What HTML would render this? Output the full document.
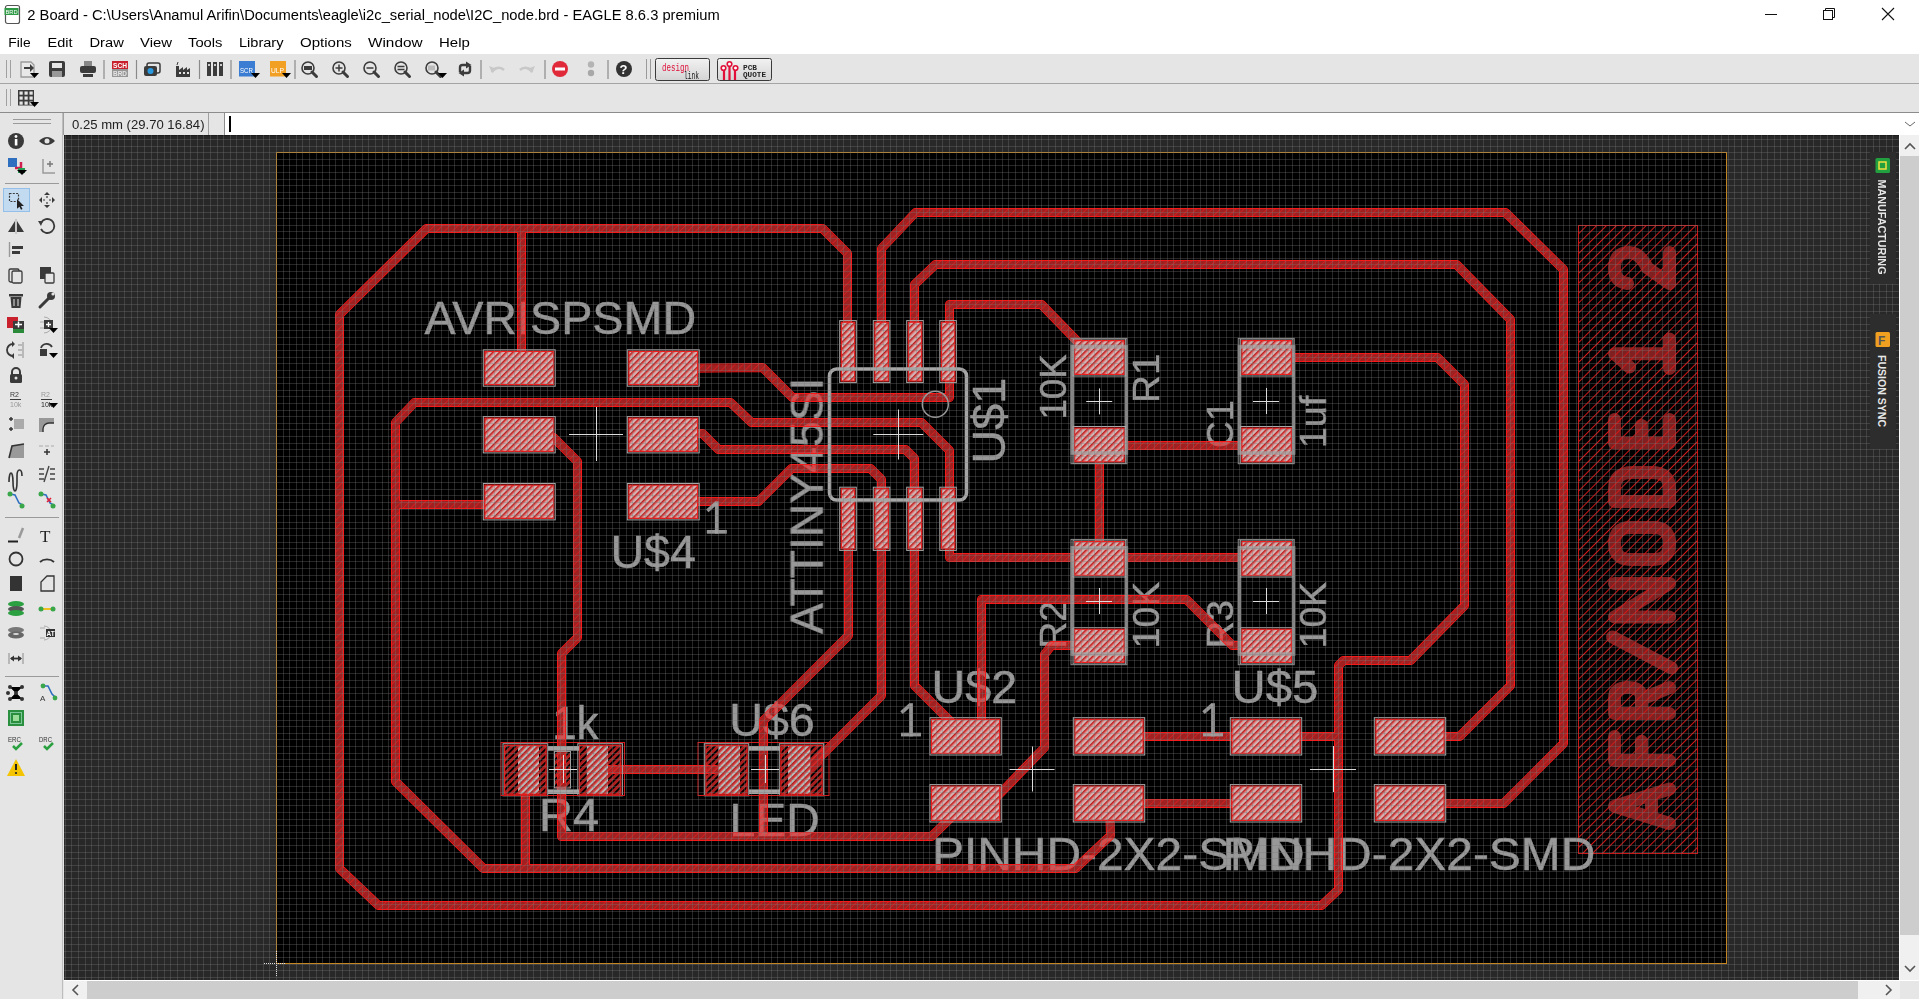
<!DOCTYPE html>
<html><head><meta charset="utf-8"><title>EAGLE</title>
<style>
*{margin:0;padding:0;box-sizing:border-box}
html,body{width:1919px;height:999px;overflow:hidden;background:#fff;font-family:"Liberation Sans",sans-serif}
.a{position:absolute}
.m{top:34px;font-size:13px;line-height:17px;color:#000;white-space:nowrap}
</style></head><body>
<div class="a" style="left:0;top:0;width:1919px;height:54px;background:#fff"></div>

<div class="a" style="left:0;top:54px;width:1919px;height:30px;background:#e5e5e5;border-bottom:1px solid #a5a5a5"></div>
<div class="a" style="left:0;top:84px;width:1919px;height:29px;background:#e5e5e5;border-bottom:1px solid #8c8c8c"></div>
<div class="a" style="left:0;top:113px;width:64px;height:886px;background:#e5e5e5"></div>
<div class="a" style="left:63px;top:113px;width:1856px;height:22px;background:#e5e5e5;border-left:1px solid #a0a0a0"></div>
<div class="a" style="left:208px;top:113px;width:1px;height:22px;background:#a0a0a0"></div>
<div class="a" style="left:224px;top:113px;width:1695px;height:22px;background:#fff;border-left:1px solid #8c8c8c"></div>
<div class="a" style="left:229px;top:116px;width:2px;height:16px;background:#000"></div>
<svg width="1919" height="999" viewBox="0 0 1919 999" style="position:absolute;left:0;top:0">
<defs><pattern id="hp" patternUnits="userSpaceOnUse" width="4.7" height="4.7" patternTransform="rotate(45)"><rect width="4.7" height="4.7" fill="#d2b2b2"/><rect width="1.4" height="4.7" fill="#b42020"/><rect x="1.4" width="0.8" height="4.7" fill="#f02a2a"/></pattern><pattern id="hq" patternUnits="userSpaceOnUse" width="4.7" height="4.7" patternTransform="rotate(45)"><rect width="1.7" height="4.7" fill="#b01e1e"/><rect x="1.7" width="0.9" height="4.7" fill="#f02a2a"/></pattern><pattern id="hs" patternUnits="userSpaceOnUse" width="7" height="7" patternTransform="rotate(45)"><rect width="1" height="7" fill="#d01818"/></pattern><clipPath id="cc"><rect x="64" y="135" width="1835" height="845"/></clipPath></defs>
<g clip-path="url(#cc)">
<rect x="64" y="135" width="1835" height="845" fill="#282828"/>
<rect x="276.5" y="152.5" width="1450" height="811" fill="#000"/>
<rect x="276.5" y="152.5" width="1450" height="811" fill="none" stroke="#c8861e" stroke-width="1" shape-rendering="crispEdges"/>
<path d="M64 135.5H1899" stroke="#1c1c1c" stroke-width="1"/>
<g fill="none" stroke="#8a2222" stroke-width="13" stroke-linecap="round" stroke-linejoin="round" stroke-opacity="0.93"><path transform="matrix(0 -1 -1 0 1669.5 823.5)" d="M0 0L17.25 55L34.5 0M7.59 18H26.91"/><path transform="matrix(0 -1 -1 0 1669.5 760.5)" d="M24.0 55H0V0M0 28H19.200000000000003"/><path transform="matrix(0 -1 -1 0 1669.5 713.5)" d="M0 0V55H15.6Q26.0 55 26.0 41.5Q26.0 28 15.6 28H0M14.3 28L26.0 0"/><path transform="matrix(0 -1 -1 0 1669.5 668)" d="M0 -2L31 57"/><path transform="matrix(0 -1 -1 0 1669.5 617)" d="M0 0V55L33.5 0V55"/><path transform="matrix(0 -1 -1 0 1669.5 559.5)" d="M16.0 0Q0 0 0 16V39Q0 55 16.0 55Q32.0 55 32.0 39V16Q32.0 0 16.0 0Z"/><path transform="matrix(0 -1 -1 0 1669.5 501.5)" d="M0 0V55H13.05Q29.0 55 29.0 37V18Q29.0 0 13.05 0Z"/><path transform="matrix(0 -1 -1 0 1669.5 443)" d="M23.5 0H0V55H23.5M0 28H17.625"/><path transform="matrix(0 -1 -1 0 1669.5 368.5)" d="M0 0H29.5M14.75 0V55L1.475 40"/><path transform="matrix(0 -1 -1 0 1669.5 283.5)" d="M0 42Q2 55 15.5 55Q31.0 55 31.0 40Q31.0 30 15.5 22L0 0H31.0"/></g>
<rect x="1578.5" y="225.5" width="119" height="628" fill="url(#hs)" stroke="#c81818" stroke-width="1"/>
<g opacity="0.9" style="will-change:opacity">
<text x="424.54" y="333.8" font-family="Liberation Sans" font-size="46" textLength="271.59" lengthAdjust="spacingAndGlyphs" fill="#aaaaaa" stroke="#aaaaaa" stroke-width="0.45">AVRISPSMD</text>
<text x="610.47" y="567.5" font-family="Liberation Sans" font-size="46" textLength="85.47" lengthAdjust="spacingAndGlyphs" fill="#aaaaaa" stroke="#aaaaaa" stroke-width="0.45">U$4</text>
<text x="0" y="0" transform="translate(822.7,634.01) rotate(-90)" font-family="Liberation Sans" font-size="46" textLength="256.43" lengthAdjust="spacingAndGlyphs" fill="#aaaaaa" stroke="#aaaaaa" stroke-width="0.45">ATTINY45SI</text>
<text x="0" y="0" transform="translate(1004.5,463.39) rotate(-90)" font-family="Liberation Sans" font-size="46" textLength="85.55" lengthAdjust="spacingAndGlyphs" fill="#aaaaaa" stroke="#aaaaaa" stroke-width="0.45">U$1</text>
<text x="0" y="0" transform="translate(1066,419.61) rotate(-90)" font-family="Liberation Sans" font-size="36" textLength="65.35" lengthAdjust="spacingAndGlyphs" fill="#aaaaaa" stroke="#aaaaaa" stroke-width="0.45">10K</text>
<text x="0" y="0" transform="translate(1159,402.95) rotate(-90)" font-family="Liberation Sans" font-size="36" textLength="49.45" lengthAdjust="spacingAndGlyphs" fill="#aaaaaa" stroke="#aaaaaa" stroke-width="0.45">R1</text>
<text x="0" y="0" transform="translate(1232.5,447.88) rotate(-90)" font-family="Liberation Sans" font-size="36" textLength="47.75" lengthAdjust="spacingAndGlyphs" fill="#aaaaaa" stroke="#aaaaaa" stroke-width="0.45">C1</text>
<text x="0" y="0" transform="translate(1326,448.15) rotate(-90)" font-family="Liberation Sans" font-size="36" textLength="52.45" lengthAdjust="spacingAndGlyphs" fill="#aaaaaa" stroke="#aaaaaa" stroke-width="0.45">1uf</text>
<text x="0" y="0" transform="translate(1065.5,648.57) rotate(-90)" font-family="Liberation Sans" font-size="36" textLength="47.43" lengthAdjust="spacingAndGlyphs" fill="#aaaaaa" stroke="#aaaaaa" stroke-width="0.45">R2</text>
<text x="0" y="0" transform="translate(1159,648.21) rotate(-90)" font-family="Liberation Sans" font-size="36" textLength="66.28" lengthAdjust="spacingAndGlyphs" fill="#aaaaaa" stroke="#aaaaaa" stroke-width="0.45">10K</text>
<text x="0" y="0" transform="translate(1232.5,648.57) rotate(-90)" font-family="Liberation Sans" font-size="36" textLength="48.58" lengthAdjust="spacingAndGlyphs" fill="#aaaaaa" stroke="#aaaaaa" stroke-width="0.45">R3</text>
<text x="0" y="0" transform="translate(1326,648.21) rotate(-90)" font-family="Liberation Sans" font-size="36" textLength="66.28" lengthAdjust="spacingAndGlyphs" fill="#aaaaaa" stroke="#aaaaaa" stroke-width="0.45">10K</text>
<text x="552.2" y="739" font-family="Liberation Sans" font-size="46" textLength="46.39" lengthAdjust="spacingAndGlyphs" fill="#aaaaaa" stroke="#aaaaaa" stroke-width="0.45">1k</text>
<text x="538.92" y="831.3" font-family="Liberation Sans" font-size="46" textLength="60.17" lengthAdjust="spacingAndGlyphs" fill="#aaaaaa" stroke="#aaaaaa" stroke-width="0.45">R4</text>
<text x="729.27" y="735.6" font-family="Liberation Sans" font-size="46" textLength="85.44" lengthAdjust="spacingAndGlyphs" fill="#aaaaaa" stroke="#aaaaaa" stroke-width="0.45">U$6</text>
<text x="729.6" y="836" font-family="Liberation Sans" font-size="46" textLength="90.1" lengthAdjust="spacingAndGlyphs" fill="#aaaaaa" stroke="#aaaaaa" stroke-width="0.45">LED</text>
<text x="931.53" y="703" font-family="Liberation Sans" font-size="46" textLength="85.58" lengthAdjust="spacingAndGlyphs" fill="#aaaaaa" stroke="#aaaaaa" stroke-width="0.45">U$2</text>
<text x="1231.56" y="703" font-family="Liberation Sans" font-size="46" textLength="86.76" lengthAdjust="spacingAndGlyphs" fill="#aaaaaa" stroke="#aaaaaa" stroke-width="0.45">U$5</text>
<text x="931.99" y="870" font-family="Liberation Sans" font-size="46" textLength="372.61" lengthAdjust="spacingAndGlyphs" fill="#aaaaaa" stroke="#aaaaaa" stroke-width="0.45">PINHD-2X2-SMD</text>
<text x="1222.55" y="870" font-family="Liberation Sans" font-size="46" textLength="372.83" lengthAdjust="spacingAndGlyphs" fill="#aaaaaa" stroke="#aaaaaa" stroke-width="0.45">PINHD-2X2-SMD</text>
</g>
<mask id="tm" maskUnits="userSpaceOnUse" x="0" y="0" width="1919" height="999"><path d="M822.5 228.5 L426.5 228.5 L339.5 314.5 L339.5 868.5 L378.5 905.5 L1321.5 905.5 L1338.5 889.5 L1338.5 665.5 L1343.5 660.5 L1410.5 660.5 L1464.5 605.5 L1464.5 384.5 L1437.5 357.5 L1267.5 357.5M822.5 228.5 L847.5 253.5 L847.5 352.5M521.5 228.5 L521.5 368.5M1109.5 803.5 L1110.5 835.5 L1075.5 868.5 L483.5 868.5 L395.5 781.5 L395.5 422.5 L414.5 402.5 L730.5 402.5 L751.5 422.5 L921.5 422.5 L949.5 450.5 L949.5 518.5M395.5 504.5 L519.5 504.5M663.5 368.5 L762.5 367.5 L792.5 397.5 L949.5 397.5 L949.5 352.5M519.5 437.5 L553.5 437.5 L577.5 461.5 L577.5 637.5 L561.5 653.5 L561.5 836.5 L931.5 836.5 L965.5 803.5M663.5 433.5 L702.5 433.5 L718.5 449.5 L905.5 449.5 L914.5 458.5 L914.5 685.5 L965.5 736.5M663.5 501.5 L758.5 501.5 L791.5 468.5 L870.5 468.5 L881.5 479.5 L881.5 695.5 L807.5 769.5M848.5 518.5 L848.5 635.5 L763.5 720.5 L763.5 836.5M949.5 518.5 L949.5 557.5 L1267.5 557.5M881.5 352.5 L881.5 248.5 L915.5 212.5 L1505.5 212.5 L1563.5 269.5 L1563.5 743.5 L1503.5 803.5 L1410.5 803.5M914.5 352.5 L914.5 284.5 L935.5 264.5 L1456.5 264.5 L1510.5 319.5 L1510.5 685.5 L1459.5 736.5 L1410.5 736.5M949.5 352.5 L949.5 304.5 L1041.5 304.5 L1077.5 341.5 L1099.5 358.5M1099.5 445.5 L1267.5 445.5M1099.5 445.5 L1099.5 558.5M981.5 736.5 L981.5 599.5 L1186.5 599.5 L1232.5 645.5 L1267.5 645.5M1099.5 645.5 L1051.5 645.5 L1044.5 654.5 L1044.5 747.5 L990.5 803.5 L965.5 803.5M525.5 769.5 L525.5 868.5M600.5 769.5 L726.5 769.5M1109.5 736.5 L1266.5 736.5 L1337.5 736.5M1109.5 803.5 L1266.5 803.5" fill="none" stroke="#fff" stroke-width="9" stroke-linejoin="round" stroke-linecap="round"/><path d="M822.5 228.5 L426.5 228.5 L339.5 314.5 L339.5 868.5 L378.5 905.5 L1321.5 905.5 L1338.5 889.5 L1338.5 665.5 L1343.5 660.5 L1410.5 660.5 L1464.5 605.5 L1464.5 384.5 L1437.5 357.5 L1267.5 357.5M822.5 228.5 L847.5 253.5 L847.5 352.5M521.5 228.5 L521.5 368.5M1109.5 803.5 L1110.5 835.5 L1075.5 868.5 L483.5 868.5 L395.5 781.5 L395.5 422.5 L414.5 402.5 L730.5 402.5 L751.5 422.5 L921.5 422.5 L949.5 450.5 L949.5 518.5M395.5 504.5 L519.5 504.5M663.5 368.5 L762.5 367.5 L792.5 397.5 L949.5 397.5 L949.5 352.5M519.5 437.5 L553.5 437.5 L577.5 461.5 L577.5 637.5 L561.5 653.5 L561.5 836.5 L931.5 836.5 L965.5 803.5M663.5 433.5 L702.5 433.5 L718.5 449.5 L905.5 449.5 L914.5 458.5 L914.5 685.5 L965.5 736.5M663.5 501.5 L758.5 501.5 L791.5 468.5 L870.5 468.5 L881.5 479.5 L881.5 695.5 L807.5 769.5M848.5 518.5 L848.5 635.5 L763.5 720.5 L763.5 836.5M949.5 518.5 L949.5 557.5 L1267.5 557.5M881.5 352.5 L881.5 248.5 L915.5 212.5 L1505.5 212.5 L1563.5 269.5 L1563.5 743.5 L1503.5 803.5 L1410.5 803.5M914.5 352.5 L914.5 284.5 L935.5 264.5 L1456.5 264.5 L1510.5 319.5 L1510.5 685.5 L1459.5 736.5 L1410.5 736.5M949.5 352.5 L949.5 304.5 L1041.5 304.5 L1077.5 341.5 L1099.5 358.5M1099.5 445.5 L1267.5 445.5M1099.5 445.5 L1099.5 558.5M981.5 736.5 L981.5 599.5 L1186.5 599.5 L1232.5 645.5 L1267.5 645.5M1099.5 645.5 L1051.5 645.5 L1044.5 654.5 L1044.5 747.5 L990.5 803.5 L965.5 803.5M525.5 769.5 L525.5 868.5M600.5 769.5 L726.5 769.5M1109.5 736.5 L1266.5 736.5 L1337.5 736.5M1109.5 803.5 L1266.5 803.5" fill="none" stroke="#000" stroke-width="7" stroke-linejoin="round" stroke-linecap="round"/></mask>
<path d="M822.5 228.5 L426.5 228.5 L339.5 314.5 L339.5 868.5 L378.5 905.5 L1321.5 905.5 L1338.5 889.5 L1338.5 665.5 L1343.5 660.5 L1410.5 660.5 L1464.5 605.5 L1464.5 384.5 L1437.5 357.5 L1267.5 357.5M822.5 228.5 L847.5 253.5 L847.5 352.5M521.5 228.5 L521.5 368.5M1109.5 803.5 L1110.5 835.5 L1075.5 868.5 L483.5 868.5 L395.5 781.5 L395.5 422.5 L414.5 402.5 L730.5 402.5 L751.5 422.5 L921.5 422.5 L949.5 450.5 L949.5 518.5M395.5 504.5 L519.5 504.5M663.5 368.5 L762.5 367.5 L792.5 397.5 L949.5 397.5 L949.5 352.5M519.5 437.5 L553.5 437.5 L577.5 461.5 L577.5 637.5 L561.5 653.5 L561.5 836.5 L931.5 836.5 L965.5 803.5M663.5 433.5 L702.5 433.5 L718.5 449.5 L905.5 449.5 L914.5 458.5 L914.5 685.5 L965.5 736.5M663.5 501.5 L758.5 501.5 L791.5 468.5 L870.5 468.5 L881.5 479.5 L881.5 695.5 L807.5 769.5M848.5 518.5 L848.5 635.5 L763.5 720.5 L763.5 836.5M949.5 518.5 L949.5 557.5 L1267.5 557.5M881.5 352.5 L881.5 248.5 L915.5 212.5 L1505.5 212.5 L1563.5 269.5 L1563.5 743.5 L1503.5 803.5 L1410.5 803.5M914.5 352.5 L914.5 284.5 L935.5 264.5 L1456.5 264.5 L1510.5 319.5 L1510.5 685.5 L1459.5 736.5 L1410.5 736.5M949.5 352.5 L949.5 304.5 L1041.5 304.5 L1077.5 341.5 L1099.5 358.5M1099.5 445.5 L1267.5 445.5M1099.5 445.5 L1099.5 558.5M981.5 736.5 L981.5 599.5 L1186.5 599.5 L1232.5 645.5 L1267.5 645.5M1099.5 645.5 L1051.5 645.5 L1044.5 654.5 L1044.5 747.5 L990.5 803.5 L965.5 803.5M525.5 769.5 L525.5 868.5M600.5 769.5 L726.5 769.5M1109.5 736.5 L1266.5 736.5 L1337.5 736.5M1109.5 803.5 L1266.5 803.5" fill="none" stroke="#ea3030" stroke-width="7.2" stroke-linejoin="round" stroke-linecap="round" stroke-opacity="0.68"/>
<rect x="64" y="135" width="1835" height="845" fill="#f81818" mask="url(#tm)"/>
<pattern id="th" patternUnits="userSpaceOnUse" width="5.55" height="5.55" patternTransform="rotate(45)"><rect width="1" height="5.55" fill="#ff2020"/></pattern>
<mask id="ti" maskUnits="userSpaceOnUse" x="0" y="0" width="1919" height="999"><path d="M822.5 228.5 L426.5 228.5 L339.5 314.5 L339.5 868.5 L378.5 905.5 L1321.5 905.5 L1338.5 889.5 L1338.5 665.5 L1343.5 660.5 L1410.5 660.5 L1464.5 605.5 L1464.5 384.5 L1437.5 357.5 L1267.5 357.5M822.5 228.5 L847.5 253.5 L847.5 352.5M521.5 228.5 L521.5 368.5M1109.5 803.5 L1110.5 835.5 L1075.5 868.5 L483.5 868.5 L395.5 781.5 L395.5 422.5 L414.5 402.5 L730.5 402.5 L751.5 422.5 L921.5 422.5 L949.5 450.5 L949.5 518.5M395.5 504.5 L519.5 504.5M663.5 368.5 L762.5 367.5 L792.5 397.5 L949.5 397.5 L949.5 352.5M519.5 437.5 L553.5 437.5 L577.5 461.5 L577.5 637.5 L561.5 653.5 L561.5 836.5 L931.5 836.5 L965.5 803.5M663.5 433.5 L702.5 433.5 L718.5 449.5 L905.5 449.5 L914.5 458.5 L914.5 685.5 L965.5 736.5M663.5 501.5 L758.5 501.5 L791.5 468.5 L870.5 468.5 L881.5 479.5 L881.5 695.5 L807.5 769.5M848.5 518.5 L848.5 635.5 L763.5 720.5 L763.5 836.5M949.5 518.5 L949.5 557.5 L1267.5 557.5M881.5 352.5 L881.5 248.5 L915.5 212.5 L1505.5 212.5 L1563.5 269.5 L1563.5 743.5 L1503.5 803.5 L1410.5 803.5M914.5 352.5 L914.5 284.5 L935.5 264.5 L1456.5 264.5 L1510.5 319.5 L1510.5 685.5 L1459.5 736.5 L1410.5 736.5M949.5 352.5 L949.5 304.5 L1041.5 304.5 L1077.5 341.5 L1099.5 358.5M1099.5 445.5 L1267.5 445.5M1099.5 445.5 L1099.5 558.5M981.5 736.5 L981.5 599.5 L1186.5 599.5 L1232.5 645.5 L1267.5 645.5M1099.5 645.5 L1051.5 645.5 L1044.5 654.5 L1044.5 747.5 L990.5 803.5 L965.5 803.5M525.5 769.5 L525.5 868.5M600.5 769.5 L726.5 769.5M1109.5 736.5 L1266.5 736.5 L1337.5 736.5M1109.5 803.5 L1266.5 803.5" fill="none" stroke="#fff" stroke-width="7" stroke-linejoin="round" stroke-linecap="round"/></mask>
<rect x="64" y="135" width="1835" height="845" fill="url(#th)" fill-opacity="0.5" mask="url(#ti)"/>
<rect x="518" y="745.5" width="21" height="48.5" fill="#b8b8b8"/>
<rect x="587" y="745.5" width="21" height="48.5" fill="#b8b8b8"/>
<rect x="718.4" y="745.5" width="21.600000000000023" height="48.5" fill="#b8b8b8"/>
<rect x="788" y="745.5" width="22.299999999999955" height="48.5" fill="#b8b8b8"/>
<rect x="483.29999999999995" y="349.8" width="71.90000000000005" height="36.399999999999935" fill="none" stroke="#a8a8a8" stroke-width="1"/>
<rect x="484.9" y="351.40000000000003" width="68.70000000000005" height="33.19999999999993" fill="url(#hp)" stroke="#f01c1c" stroke-width="1.2"/>
<rect x="627.3" y="349.8" width="71.90000000000005" height="36.399999999999935" fill="none" stroke="#a8a8a8" stroke-width="1"/>
<rect x="628.9" y="351.40000000000003" width="68.70000000000005" height="33.19999999999993" fill="url(#hp)" stroke="#f01c1c" stroke-width="1.2"/>
<rect x="483.29999999999995" y="416.5" width="71.90000000000005" height="36.399999999999935" fill="none" stroke="#a8a8a8" stroke-width="1"/>
<rect x="484.9" y="418.1" width="68.70000000000005" height="33.19999999999993" fill="url(#hp)" stroke="#f01c1c" stroke-width="1.2"/>
<rect x="627.3" y="416.5" width="71.90000000000005" height="36.399999999999935" fill="none" stroke="#a8a8a8" stroke-width="1"/>
<rect x="628.9" y="418.1" width="68.70000000000005" height="33.19999999999993" fill="url(#hp)" stroke="#f01c1c" stroke-width="1.2"/>
<rect x="483.29999999999995" y="483.5" width="71.90000000000005" height="36.399999999999935" fill="none" stroke="#a8a8a8" stroke-width="1"/>
<rect x="484.9" y="485.1" width="68.70000000000005" height="33.19999999999993" fill="url(#hp)" stroke="#f01c1c" stroke-width="1.2"/>
<rect x="627.3" y="483.5" width="71.90000000000005" height="36.399999999999935" fill="none" stroke="#a8a8a8" stroke-width="1"/>
<rect x="628.9" y="485.1" width="68.70000000000005" height="33.19999999999993" fill="url(#hp)" stroke="#f01c1c" stroke-width="1.2"/>
<rect x="839.6999999999999" y="320.6" width="16.60000000000009" height="61.99999999999996" fill="none" stroke="#a8a8a8" stroke-width="1"/>
<rect x="841.3" y="322.20000000000005" width="13.400000000000091" height="58.799999999999955" fill="url(#hp)" stroke="#f01c1c" stroke-width="1.2"/>
<rect x="839.6999999999999" y="487.2" width="16.60000000000009" height="63.199999999999946" fill="none" stroke="#a8a8a8" stroke-width="1"/>
<rect x="841.3" y="488.8" width="13.400000000000091" height="59.99999999999994" fill="url(#hp)" stroke="#f01c1c" stroke-width="1.2"/>
<rect x="873.3" y="320.6" width="16.60000000000009" height="61.99999999999996" fill="none" stroke="#a8a8a8" stroke-width="1"/>
<rect x="874.9" y="322.20000000000005" width="13.400000000000091" height="58.799999999999955" fill="url(#hp)" stroke="#f01c1c" stroke-width="1.2"/>
<rect x="873.3" y="487.2" width="16.60000000000009" height="63.199999999999946" fill="none" stroke="#a8a8a8" stroke-width="1"/>
<rect x="874.9" y="488.8" width="13.400000000000091" height="59.99999999999994" fill="url(#hp)" stroke="#f01c1c" stroke-width="1.2"/>
<rect x="906.6999999999999" y="320.6" width="16.60000000000009" height="61.99999999999996" fill="none" stroke="#a8a8a8" stroke-width="1"/>
<rect x="908.3" y="322.20000000000005" width="13.400000000000091" height="58.799999999999955" fill="url(#hp)" stroke="#f01c1c" stroke-width="1.2"/>
<rect x="906.6999999999999" y="487.2" width="16.60000000000009" height="63.199999999999946" fill="none" stroke="#a8a8a8" stroke-width="1"/>
<rect x="908.3" y="488.8" width="13.400000000000091" height="59.99999999999994" fill="url(#hp)" stroke="#f01c1c" stroke-width="1.2"/>
<rect x="939.8" y="320.6" width="16.60000000000009" height="61.99999999999996" fill="none" stroke="#a8a8a8" stroke-width="1"/>
<rect x="941.4" y="322.20000000000005" width="13.400000000000091" height="58.799999999999955" fill="url(#hp)" stroke="#f01c1c" stroke-width="1.2"/>
<rect x="939.8" y="487.2" width="16.60000000000009" height="63.199999999999946" fill="none" stroke="#a8a8a8" stroke-width="1"/>
<rect x="941.4" y="488.8" width="13.400000000000091" height="59.99999999999994" fill="url(#hp)" stroke="#f01c1c" stroke-width="1.2"/>
<rect x="1073.0500000000002" y="339.0" width="52.64999999999982" height="36.99999999999996" fill="none" stroke="#a8a8a8" stroke-width="1"/>
<rect x="1074.65" y="340.6" width="49.44999999999982" height="33.799999999999955" fill="url(#hp)" stroke="#f01c1c" stroke-width="1.2"/>
<rect x="1073.0500000000002" y="426.5" width="52.64999999999982" height="36.99999999999996" fill="none" stroke="#a8a8a8" stroke-width="1"/>
<rect x="1074.65" y="428.1" width="49.44999999999982" height="33.799999999999955" fill="url(#hp)" stroke="#f01c1c" stroke-width="1.2"/>
<rect x="1073.0500000000002" y="540.0" width="52.64999999999982" height="36.99999999999996" fill="none" stroke="#a8a8a8" stroke-width="1"/>
<rect x="1074.65" y="541.6" width="49.44999999999982" height="33.799999999999955" fill="url(#hp)" stroke="#f01c1c" stroke-width="1.2"/>
<rect x="1073.0500000000002" y="627.7" width="52.64999999999982" height="36.29999999999991" fill="none" stroke="#a8a8a8" stroke-width="1"/>
<rect x="1074.65" y="629.3000000000001" width="49.44999999999982" height="33.09999999999991" fill="url(#hp)" stroke="#f01c1c" stroke-width="1.2"/>
<rect x="1240.3000000000002" y="339.0" width="52.64999999999982" height="36.99999999999996" fill="none" stroke="#a8a8a8" stroke-width="1"/>
<rect x="1241.9" y="340.6" width="49.44999999999982" height="33.799999999999955" fill="url(#hp)" stroke="#f01c1c" stroke-width="1.2"/>
<rect x="1240.3000000000002" y="426.5" width="52.64999999999982" height="36.99999999999996" fill="none" stroke="#a8a8a8" stroke-width="1"/>
<rect x="1241.9" y="428.1" width="49.44999999999982" height="33.799999999999955" fill="url(#hp)" stroke="#f01c1c" stroke-width="1.2"/>
<rect x="1240.3000000000002" y="540.0" width="52.64999999999982" height="36.99999999999996" fill="none" stroke="#a8a8a8" stroke-width="1"/>
<rect x="1241.9" y="541.6" width="49.44999999999982" height="33.799999999999955" fill="url(#hp)" stroke="#f01c1c" stroke-width="1.2"/>
<rect x="1240.3000000000002" y="627.7" width="52.64999999999982" height="36.29999999999991" fill="none" stroke="#a8a8a8" stroke-width="1"/>
<rect x="1241.9" y="629.3000000000001" width="49.44999999999982" height="33.09999999999991" fill="url(#hp)" stroke="#f01c1c" stroke-width="1.2"/>
<rect x="929.9" y="717.7" width="71.40000000000005" height="37.29999999999991" fill="none" stroke="#a8a8a8" stroke-width="1"/>
<rect x="931.5" y="719.3000000000001" width="68.20000000000005" height="34.09999999999991" fill="url(#hp)" stroke="#f01c1c" stroke-width="1.2"/>
<rect x="929.9" y="784.6" width="71.40000000000005" height="37.399999999999935" fill="none" stroke="#a8a8a8" stroke-width="1"/>
<rect x="931.5" y="786.2" width="68.20000000000005" height="34.19999999999993" fill="url(#hp)" stroke="#f01c1c" stroke-width="1.2"/>
<rect x="1073.3000000000002" y="717.7" width="71.39999999999982" height="37.29999999999991" fill="none" stroke="#a8a8a8" stroke-width="1"/>
<rect x="1074.9" y="719.3000000000001" width="68.19999999999982" height="34.09999999999991" fill="url(#hp)" stroke="#f01c1c" stroke-width="1.2"/>
<rect x="1073.3000000000002" y="784.6" width="71.39999999999982" height="37.399999999999935" fill="none" stroke="#a8a8a8" stroke-width="1"/>
<rect x="1074.9" y="786.2" width="68.19999999999982" height="34.19999999999993" fill="url(#hp)" stroke="#f01c1c" stroke-width="1.2"/>
<rect x="1230.3000000000002" y="717.7" width="71.39999999999982" height="37.29999999999991" fill="none" stroke="#a8a8a8" stroke-width="1"/>
<rect x="1231.9" y="719.3000000000001" width="68.19999999999982" height="34.09999999999991" fill="url(#hp)" stroke="#f01c1c" stroke-width="1.2"/>
<rect x="1230.3000000000002" y="784.6" width="71.39999999999982" height="37.399999999999935" fill="none" stroke="#a8a8a8" stroke-width="1"/>
<rect x="1231.9" y="786.2" width="68.19999999999982" height="34.19999999999993" fill="url(#hp)" stroke="#f01c1c" stroke-width="1.2"/>
<rect x="1374.3000000000002" y="717.7" width="71.39999999999982" height="37.29999999999991" fill="none" stroke="#a8a8a8" stroke-width="1"/>
<rect x="1375.9" y="719.3000000000001" width="68.19999999999982" height="34.09999999999991" fill="url(#hp)" stroke="#f01c1c" stroke-width="1.2"/>
<rect x="1374.3000000000002" y="784.6" width="71.39999999999982" height="37.399999999999935" fill="none" stroke="#a8a8a8" stroke-width="1"/>
<rect x="1375.9" y="786.2" width="68.19999999999982" height="34.19999999999993" fill="url(#hp)" stroke="#f01c1c" stroke-width="1.2"/>
<rect x="502.99999999999994" y="743.7" width="44.70000000000006" height="52.099999999999866" fill="none" stroke="#a8a8a8" stroke-width="1"/>
<rect x="504.59999999999997" y="745.3000000000001" width="41.50000000000006" height="48.899999999999864" fill="url(#hq)" stroke="#f01c1c" stroke-width="1.2"/>
<rect x="577.8" y="743.7" width="44.600000000000094" height="52.099999999999866" fill="none" stroke="#a8a8a8" stroke-width="1"/>
<rect x="579.4" y="745.3000000000001" width="41.40000000000009" height="48.899999999999864" fill="url(#hq)" stroke="#f01c1c" stroke-width="1.2"/>
<rect x="704.3" y="743.7" width="44.40000000000005" height="52.099999999999866" fill="none" stroke="#a8a8a8" stroke-width="1"/>
<rect x="705.9" y="745.3000000000001" width="41.200000000000045" height="48.899999999999864" fill="url(#hq)" stroke="#f01c1c" stroke-width="1.2"/>
<rect x="779.3" y="743.7" width="44.40000000000005" height="52.099999999999866" fill="none" stroke="#a8a8a8" stroke-width="1"/>
<rect x="780.9" y="745.3000000000001" width="41.200000000000045" height="48.899999999999864" fill="url(#hq)" stroke="#f01c1c" stroke-width="1.2"/>
<rect x="1072.25" y="346.9" width="54.1" height="106.1" fill="none" stroke="#a4a4a4" stroke-width="3.6" stroke-opacity="0.8"/>
<rect x="1071" y="338.4" width="56" height="125.3" fill="none" stroke="#8a8a8a" stroke-width="1"/>
<rect x="1239.5" y="346.9" width="54.1" height="106.1" fill="none" stroke="#a4a4a4" stroke-width="3.6" stroke-opacity="0.8"/>
<rect x="1238.25" y="338.4" width="56" height="125.3" fill="none" stroke="#8a8a8a" stroke-width="1"/>
<rect x="1072.25" y="547.9" width="54.1" height="106.1" fill="none" stroke="#a4a4a4" stroke-width="3.6" stroke-opacity="0.8"/>
<rect x="1071" y="539.4" width="56" height="125.3" fill="none" stroke="#8a8a8a" stroke-width="1"/>
<rect x="1239.5" y="547.9" width="54.1" height="106.1" fill="none" stroke="#a4a4a4" stroke-width="3.6" stroke-opacity="0.8"/>
<rect x="1238.25" y="539.4" width="56" height="125.3" fill="none" stroke="#8a8a8a" stroke-width="1"/>
<rect x="548" y="746" width="31" height="4.7" fill="#a4a4a4"/><rect x="548" y="789.4" width="31" height="4.6" fill="#a4a4a4"/>
<rect x="749" y="746" width="31" height="4.7" fill="#a4a4a4"/><rect x="749" y="789.4" width="31" height="4.6" fill="#a4a4a4"/>
<rect x="554.5" y="751.4" width="16" height="36.6" fill="url(#hq)" stroke="#a0a0a0" stroke-width="1"/>
<rect x="501" y="742.5" width="123.5" height="53" fill="none" stroke="#d01c1c" stroke-width="1"/>
<rect x="698" y="742.5" width="131" height="53" fill="none" stroke="#d01c1c" stroke-width="1"/>
<rect x="829.5" y="369" width="137" height="131" rx="7" fill="none" stroke="#a6a6a6" stroke-width="3.6"/>
<circle cx="935.3" cy="404.3" r="13" fill="none" stroke="#9a9a9a" stroke-width="1.5"/>
<g fill="#a0a0a0" fill-opacity="0.92"><rect x="714.9" y="501.4" width="3.8" height="32.30000000000007"/><rect x="706.8" y="530.0" width="20" height="3.7"/></g><path d="M716.3 502.9L707.3 510.9" stroke="#a0a0a0" stroke-opacity="0.92" stroke-width="3.6"/>
<g fill="#a0a0a0" fill-opacity="0.92"><rect x="909.1" y="703.2" width="3.8" height="33.19999999999993"/><rect x="901" y="732.6999999999999" width="20" height="3.7"/></g><path d="M910.5 704.7L901.5 712.7" stroke="#a0a0a0" stroke-opacity="0.92" stroke-width="3.6"/>
<g fill="#a0a0a0" fill-opacity="0.92"><rect x="1211.1" y="703.2" width="3.8" height="33.19999999999993"/><rect x="1203" y="732.6999999999999" width="20" height="3.7"/></g><path d="M1212.5 704.7L1203.5 712.7" stroke="#a0a0a0" stroke-opacity="0.92" stroke-width="3.6"/>
<path d="M65.5 135V980M71.5 135V980M78.5 135V980M85.5 135V980M91.5 135V980M98.5 135V980M104.5 135V980M111.5 135V980M118.5 135V980M124.5 135V980M131.5 135V980M137.5 135V980M144.5 135V980M151.5 135V980M157.5 135V980M164.5 135V980M170.5 135V980M177.5 135V980M184.5 135V980M190.5 135V980M197.5 135V980M203.5 135V980M210.5 135V980M217.5 135V980M223.5 135V980M230.5 135V980M236.5 135V980M243.5 135V980M250.5 135V980M256.5 135V980M263.5 135V980M269.5 135V980M276.5 135V980M283.5 135V980M289.5 135V980M296.5 135V980M302.5 135V980M309.5 135V980M316.5 135V980M322.5 135V980M329.5 135V980M335.5 135V980M342.5 135V980M349.5 135V980M355.5 135V980M362.5 135V980M368.5 135V980M375.5 135V980M382.5 135V980M388.5 135V980M395.5 135V980M401.5 135V980M408.5 135V980M415.5 135V980M421.5 135V980M428.5 135V980M434.5 135V980M441.5 135V980M448.5 135V980M454.5 135V980M461.5 135V980M467.5 135V980M474.5 135V980M481.5 135V980M487.5 135V980M494.5 135V980M500.5 135V980M507.5 135V980M514.5 135V980M520.5 135V980M527.5 135V980M533.5 135V980M540.5 135V980M547.5 135V980M553.5 135V980M560.5 135V980M566.5 135V980M573.5 135V980M579.5 135V980M586.5 135V980M593.5 135V980M599.5 135V980M606.5 135V980M612.5 135V980M619.5 135V980M626.5 135V980M632.5 135V980M639.5 135V980M645.5 135V980M652.5 135V980M659.5 135V980M665.5 135V980M672.5 135V980M678.5 135V980M685.5 135V980M692.5 135V980M698.5 135V980M705.5 135V980M711.5 135V980M718.5 135V980M725.5 135V980M731.5 135V980M738.5 135V980M744.5 135V980M751.5 135V980M758.5 135V980M764.5 135V980M771.5 135V980M777.5 135V980M784.5 135V980M791.5 135V980M797.5 135V980M804.5 135V980M810.5 135V980M817.5 135V980M824.5 135V980M830.5 135V980M837.5 135V980M843.5 135V980M850.5 135V980M857.5 135V980M863.5 135V980M870.5 135V980M876.5 135V980M883.5 135V980M890.5 135V980M896.5 135V980M903.5 135V980M909.5 135V980M916.5 135V980M923.5 135V980M929.5 135V980M936.5 135V980M942.5 135V980M949.5 135V980M956.5 135V980M962.5 135V980M969.5 135V980M975.5 135V980M982.5 135V980M989.5 135V980M995.5 135V980M1002.5 135V980M1008.5 135V980M1015.5 135V980M1022.5 135V980M1028.5 135V980M1035.5 135V980M1041.5 135V980M1048.5 135V980M1055.5 135V980M1061.5 135V980M1068.5 135V980M1074.5 135V980M1081.5 135V980M1088.5 135V980M1094.5 135V980M1101.5 135V980M1107.5 135V980M1114.5 135V980M1121.5 135V980M1127.5 135V980M1134.5 135V980M1140.5 135V980M1147.5 135V980M1154.5 135V980M1160.5 135V980M1167.5 135V980M1173.5 135V980M1180.5 135V980M1187.5 135V980M1193.5 135V980M1200.5 135V980M1206.5 135V980M1213.5 135V980M1219.5 135V980M1226.5 135V980M1233.5 135V980M1239.5 135V980M1246.5 135V980M1252.5 135V980M1259.5 135V980M1266.5 135V980M1272.5 135V980M1279.5 135V980M1285.5 135V980M1292.5 135V980M1299.5 135V980M1305.5 135V980M1312.5 135V980M1318.5 135V980M1325.5 135V980M1332.5 135V980M1338.5 135V980M1345.5 135V980M1351.5 135V980M1358.5 135V980M1365.5 135V980M1371.5 135V980M1378.5 135V980M1384.5 135V980M1391.5 135V980M1398.5 135V980M1404.5 135V980M1411.5 135V980M1417.5 135V980M1424.5 135V980M1431.5 135V980M1437.5 135V980M1444.5 135V980M1450.5 135V980M1457.5 135V980M1464.5 135V980M1470.5 135V980M1477.5 135V980M1483.5 135V980M1490.5 135V980M1497.5 135V980M1503.5 135V980M1510.5 135V980M1516.5 135V980M1523.5 135V980M1530.5 135V980M1536.5 135V980M1543.5 135V980M1549.5 135V980M1556.5 135V980M1563.5 135V980M1569.5 135V980M1576.5 135V980M1582.5 135V980M1589.5 135V980M1596.5 135V980M1602.5 135V980M1609.5 135V980M1615.5 135V980M1622.5 135V980M1629.5 135V980M1635.5 135V980M1642.5 135V980M1648.5 135V980M1655.5 135V980M1662.5 135V980M1668.5 135V980M1675.5 135V980M1681.5 135V980M1688.5 135V980M1695.5 135V980M1701.5 135V980M1708.5 135V980M1714.5 135V980M1721.5 135V980M1728.5 135V980M1734.5 135V980M1741.5 135V980M1747.5 135V980M1754.5 135V980M1761.5 135V980M1767.5 135V980M1774.5 135V980M1780.5 135V980M1787.5 135V980M1794.5 135V980M1800.5 135V980M1807.5 135V980M1813.5 135V980M1820.5 135V980M1827.5 135V980M1833.5 135V980M1840.5 135V980M1846.5 135V980M1853.5 135V980M1860.5 135V980M1866.5 135V980M1873.5 135V980M1879.5 135V980M1886.5 135V980M1892.5 135V980" stroke="#787878" stroke-opacity="0.32" stroke-width="1" shape-rendering="crispEdges" fill="none"/>
<path d="M64 139.5H1899M64 146.5H1899M64 152.5H1899M64 159.5H1899M64 165.5H1899M64 172.5H1899M64 179.5H1899M64 185.5H1899M64 192.5H1899M64 198.5H1899M64 205.5H1899M64 212.5H1899M64 218.5H1899M64 225.5H1899M64 231.5H1899M64 238.5H1899M64 245.5H1899M64 251.5H1899M64 258.5H1899M64 264.5H1899M64 271.5H1899M64 278.5H1899M64 284.5H1899M64 291.5H1899M64 297.5H1899M64 304.5H1899M64 311.5H1899M64 317.5H1899M64 324.5H1899M64 330.5H1899M64 337.5H1899M64 344.5H1899M64 350.5H1899M64 357.5H1899M64 363.5H1899M64 370.5H1899M64 377.5H1899M64 383.5H1899M64 390.5H1899M64 396.5H1899M64 403.5H1899M64 410.5H1899M64 416.5H1899M64 423.5H1899M64 429.5H1899M64 436.5H1899M64 443.5H1899M64 449.5H1899M64 456.5H1899M64 462.5H1899M64 469.5H1899M64 476.5H1899M64 482.5H1899M64 489.5H1899M64 495.5H1899M64 502.5H1899M64 509.5H1899M64 515.5H1899M64 522.5H1899M64 528.5H1899M64 535.5H1899M64 542.5H1899M64 548.5H1899M64 555.5H1899M64 561.5H1899M64 568.5H1899M64 575.5H1899M64 581.5H1899M64 588.5H1899M64 594.5H1899M64 601.5H1899M64 608.5H1899M64 614.5H1899M64 621.5H1899M64 627.5H1899M64 634.5H1899M64 640.5H1899M64 647.5H1899M64 654.5H1899M64 660.5H1899M64 667.5H1899M64 673.5H1899M64 680.5H1899M64 687.5H1899M64 693.5H1899M64 700.5H1899M64 706.5H1899M64 713.5H1899M64 720.5H1899M64 726.5H1899M64 733.5H1899M64 739.5H1899M64 746.5H1899M64 753.5H1899M64 759.5H1899M64 766.5H1899M64 772.5H1899M64 779.5H1899M64 786.5H1899M64 792.5H1899M64 799.5H1899M64 805.5H1899M64 812.5H1899M64 819.5H1899M64 825.5H1899M64 832.5H1899M64 838.5H1899M64 845.5H1899M64 852.5H1899M64 858.5H1899M64 865.5H1899M64 871.5H1899M64 878.5H1899M64 885.5H1899M64 891.5H1899M64 898.5H1899M64 904.5H1899M64 911.5H1899M64 918.5H1899M64 924.5H1899M64 931.5H1899M64 937.5H1899M64 944.5H1899M64 951.5H1899M64 957.5H1899M64 964.5H1899M64 970.5H1899M64 977.5H1899" stroke="#787878" stroke-opacity="0.32" stroke-width="1" shape-rendering="crispEdges" fill="none"/>
<path d="M569 434.5H623M596.5 407V461M873.3 434.5H923.3M898.5 409.5V459.5M1086.2 401.5H1112.2M1099.5 388.4V414.4M1253 401.5H1279M1266.5 388V414M1086 601.5H1112M1099.5 588V614M1253 601.5H1279M1266.5 588V614M549 769.5H577M563.5 755V783M751 769.5H779M765.5 755V783M1009.5 769.5H1054.5M1032.5 746.5V791.5M1310 769.5H1356M1333.5 746V792" stroke="#dcdcdc" stroke-width="1" fill="none"/>
<path d="M264 963.5H285M276.5 951V976" stroke="#ddd" stroke-width="1" stroke-dasharray="1 1"/>
</g></svg>
<svg width="1919" height="999" style="position:absolute;left:0;top:0"><rect x="5.5" y="5.5" width="14" height="18" rx="2" fill="#fff" stroke="#555" stroke-width="1.2"/><rect x="4.5" y="8" width="14" height="7" fill="#2f9a45"/><text x="5.5" y="14" font-family="Liberation Sans" font-size="6" fill="#fff" textLength="12" lengthAdjust="spacingAndGlyphs">BRD</text><path d="M1765 14.5H1777" stroke="#111" stroke-width="1"/><rect x="1823.5" y="10.5" width="9" height="9" fill="none" stroke="#111" stroke-width="1"/><path d="M1825.5 10.5V8.5H1834.5V17.5H1832.5" fill="none" stroke="#111" stroke-width="1"/><path d="M1882 8L1894 20M1894 8L1882 20" stroke="#111" stroke-width="1.1"/><text x="8.3" y="47" font-family="Liberation Sans" font-size="12" fill="#000" textLength="22.3" lengthAdjust="spacingAndGlyphs">File</text><text x="47.5" y="47" font-family="Liberation Sans" font-size="12" fill="#000" textLength="25" lengthAdjust="spacingAndGlyphs">Edit</text><text x="89.5" y="47" font-family="Liberation Sans" font-size="12" fill="#000" textLength="34.3" lengthAdjust="spacingAndGlyphs">Draw</text><text x="140" y="47" font-family="Liberation Sans" font-size="12" fill="#000" textLength="32" lengthAdjust="spacingAndGlyphs">View</text><text x="188" y="47" font-family="Liberation Sans" font-size="12" fill="#000" textLength="34.5" lengthAdjust="spacingAndGlyphs">Tools</text><text x="239" y="47" font-family="Liberation Sans" font-size="12" fill="#000" textLength="44.5" lengthAdjust="spacingAndGlyphs">Library</text><text x="300" y="47" font-family="Liberation Sans" font-size="12" fill="#000" textLength="51.8" lengthAdjust="spacingAndGlyphs">Options</text><text x="368" y="47" font-family="Liberation Sans" font-size="12" fill="#000" textLength="54.5" lengthAdjust="spacingAndGlyphs">Window</text><text x="439" y="47" font-family="Liberation Sans" font-size="12" fill="#000" textLength="30.8" lengthAdjust="spacingAndGlyphs">Help</text><text x="27.3" y="19.5" font-family="Liberation Sans" font-size="13.8" fill="#000" textLength="692.4" lengthAdjust="spacingAndGlyphs">2 Board - C:\Users\Anamul Arifin\Documents\eagle\i2c_serial_node\I2C_node.brd - EAGLE 8.6.3 premium</text><text x="72" y="128.6" font-family="Liberation Sans" font-size="12.3" fill="#222" textLength="132.5" lengthAdjust="spacingAndGlyphs">0.25 mm (29.70 16.84)</text><path d="M6.5 60V78M10.5 60V78" stroke="#a0a0a0" stroke-width="1"/><path d="M6.5 89V106M10.5 89V106" stroke="#a0a0a0" stroke-width="1"/><path d="M104 60V79" stroke="#8a8a8a" stroke-width="1.2"/><path d="M136.5 60V79" stroke="#8a8a8a" stroke-width="1.2"/><path d="M199.5 60V79" stroke="#8a8a8a" stroke-width="1.2"/><path d="M231 60V79" stroke="#8a8a8a" stroke-width="1.2"/><path d="M295 60V79" stroke="#8a8a8a" stroke-width="1.2"/><path d="M481 60V79" stroke="#8a8a8a" stroke-width="1.2"/><path d="M545 60V79" stroke="#8a8a8a" stroke-width="1.2"/><path d="M608 60V79" stroke="#8a8a8a" stroke-width="1.2"/><path d="M646.5 59V79M650.5 59V79" stroke="#9a9a9a" stroke-width="1"/><path d="M21 62h10l3 3v12H21z" fill="#e8e8e8" stroke="#9a9a9a" stroke-width="1.3"/><path d="M24 67h6v-3l4 4-4 4v-3h-6z" fill="#3c3c3c"/><path d="M30 73h9l-4.5 5z" fill="#000"/><rect x="49" y="61" width="16" height="16" rx="2" fill="#3c3c3c"/><rect x="52" y="63" width="10" height="5" fill="#e5e5e5"/><rect x="52" y="71" width="10" height="6" fill="#999"/><rect x="84" y="61" width="8" height="5" fill="#888"/><rect x="80" y="66" width="16" height="7" rx="2" fill="#3c3c3c"/><rect x="83" y="74" width="10" height="3" fill="#3c3c3c"/><rect x="112" y="61" width="16" height="8" fill="#c8202c"/><rect x="112" y="69" width="16" height="8" fill="#979797"/><text x="113" y="68" font-family="Liberation Sans" font-weight="bold" font-size="7" fill="#fff" textLength="14" lengthAdjust="spacingAndGlyphs">SCH</text><text x="113" y="76" font-family="Liberation Sans" font-weight="bold" font-size="7" fill="#e5e5e5" textLength="14" lengthAdjust="spacingAndGlyphs">BRD</text><rect x="147" y="63" width="13" height="10" rx="2" fill="none" stroke="#3c3c3c" stroke-width="1.5"/><rect x="144" y="66" width="13" height="10" rx="2" fill="#3c3c3c"/><circle cx="150.5" cy="71" r="3" fill="#2a9ae0"/><path d="M176 77V66h3v4l4-3v3l4-3v3l3-2v9z" fill="#3c3c3c"/><path d="M177 65l1-3" stroke="#3c3c3c"/><rect x="179" y="72" width="2" height="2" fill="#e5e5e5"/><rect x="183" y="72" width="2" height="2" fill="#e5e5e5"/><rect x="187" y="72" width="2" height="2" fill="#e5e5e5"/><rect x="207" y="62" width="4" height="14" fill="#3c3c3c"/><rect x="213" y="62" width="4" height="14" fill="#3c3c3c"/><rect x="219" y="62" width="4" height="14" fill="#3c3c3c"/><rect x="208" y="64" width="2" height="2" fill="#ccc"/><rect x="214" y="64" width="2" height="2" fill="#ccc"/><rect x="220" y="64" width="2" height="2" fill="#ccc"/><rect x="239" y="61" width="16" height="15.5" fill="#3a7dd2"/><text x="240" y="72.5" font-family="Liberation Sans" font-size="8" fill="#fff" textLength="13" lengthAdjust="spacingAndGlyphs">SCR</text><path d="M251 73h9l-4.5 5z" fill="#000"/><rect x="270" y="61" width="16" height="15.5" fill="#f2a024"/><text x="271" y="72.5" font-family="Liberation Sans" font-size="8" fill="#fff" textLength="13" lengthAdjust="spacingAndGlyphs">ULP</text><path d="M282 73h9l-4.5 5z" fill="#000"/><circle cx="308" cy="68" r="6" fill="none" stroke="#3c3c3c" stroke-width="1.6"/><path d="M312 72l4.5 4.5" stroke="#3c3c3c" stroke-width="3" stroke-linecap="round"/><rect x="304" y="66" width="8" height="4" fill="#3c3c3c"/><circle cx="339" cy="68" r="6" fill="none" stroke="#3c3c3c" stroke-width="1.6"/><path d="M343 72l4.5 4.5" stroke="#3c3c3c" stroke-width="3" stroke-linecap="round"/><path d="M335.5 68h7M339 64.5v7" stroke="#3c3c3c" stroke-width="1.5"/><circle cx="370" cy="68" r="6" fill="none" stroke="#3c3c3c" stroke-width="1.6"/><path d="M374 72l4.5 4.5" stroke="#3c3c3c" stroke-width="3" stroke-linecap="round"/><path d="M366.5 68h7" stroke="#3c3c3c" stroke-width="1.5"/><circle cx="401" cy="68" r="6" fill="none" stroke="#3c3c3c" stroke-width="1.6"/><path d="M405 72l4.5 4.5" stroke="#3c3c3c" stroke-width="3" stroke-linecap="round"/><path d="M397.5 66.5h7M397.5 69.5h7" stroke="#3c3c3c" stroke-width="1.3"/><circle cx="432" cy="68" r="6" fill="none" stroke="#3c3c3c" stroke-width="1.6"/><path d="M436 72l4.5 4.5" stroke="#3c3c3c" stroke-width="3" stroke-linecap="round"/><rect x="428" y="65.5" width="7" height="5" fill="#bbb"/><path d="M438 73h9l-4.5 5z" fill="#000"/><path d="M460 72V67.5Q460 65 462.5 65H467M470 66V70.5Q470 73 467.5 73H463" fill="none" stroke="#3c3c3c" stroke-width="2.4"/><path d="M466 61.5L471.5 65L466 68.5z" fill="#3c3c3c"/><path d="M464 69.5L458.5 73L464 76.5z" fill="#3c3c3c"/><path d="M492 72a7 6 0 0 1 12-2" fill="none" stroke="#c8c8c8" stroke-width="2.5"/><path d="M489 66l3 7 5-4z" fill="#c8c8c8"/><path d="M532 72a7 6 0 0 0-12-2" fill="none" stroke="#c8c8c8" stroke-width="2.5"/><path d="M535 66l-3 7-5-4z" fill="#c8c8c8"/><circle cx="560" cy="69" r="8" fill="#e02a3a"/><rect x="555" y="67.5" width="10" height="3" fill="#fff"/><circle cx="591" cy="64.5" r="3.2" fill="#b4b4b4"/><circle cx="591" cy="73" r="3.2" fill="#a8a8a8"/><circle cx="624" cy="69" r="8" fill="#333"/><text x="619.5" y="74" font-family="Liberation Sans" font-weight="bold" font-size="13" fill="#fff">?</text><defs><linearGradient id="bg1" x1="0" y1="0" x2="0" y2="1"><stop offset="0" stop-color="#f2f2f2"/><stop offset="1" stop-color="#d4d4d4"/></linearGradient></defs><rect x="655.5" y="58.5" width="54" height="22" rx="2" fill="url(#bg1)" stroke="#3a3a3a" stroke-width="1"/><text x="662" y="71" font-family="Liberation Mono" font-size="11" fill="#e0103a" textLength="27" lengthAdjust="spacingAndGlyphs">design</text><text x="684" y="78.5" font-family="Liberation Mono" font-size="10" fill="#111" textLength="15" lengthAdjust="spacingAndGlyphs">link</text><rect x="717.5" y="58.5" width="54" height="22" rx="2" fill="url(#bg1)" stroke="#3a3a3a" stroke-width="1"/><path d="M729.5 62V80M724 67v13M735 67v13" stroke="#e0103a" stroke-width="2.2"/><circle cx="729.5" cy="64" r="2.3" fill="#fff" stroke="#e0103a" stroke-width="1.6"/><circle cx="723.5" cy="68" r="2.3" fill="#fff" stroke="#e0103a" stroke-width="1.6"/><circle cx="735.5" cy="68" r="2.3" fill="#fff" stroke="#e0103a" stroke-width="1.6"/><text x="743" y="70" font-family="Liberation Mono" font-weight="bold" font-size="6.5" fill="#222" textLength="14" lengthAdjust="spacingAndGlyphs">PCB</text><text x="743" y="77" font-family="Liberation Mono" font-weight="bold" font-size="6.5" fill="#222" textLength="23" lengthAdjust="spacingAndGlyphs">QUOTE</text><rect x="18" y="90" width="16" height="15.5" fill="#3c3c3c"/><rect x="19.5" y="91.5" width="3.2" height="3.2" fill="#e5e5e5"/><rect x="19.5" y="96.5" width="3.2" height="3.2" fill="#e5e5e5"/><rect x="19.5" y="101.5" width="3.2" height="3.2" fill="#e5e5e5"/><rect x="24.5" y="91.5" width="3.2" height="3.2" fill="#e5e5e5"/><rect x="24.5" y="96.5" width="3.2" height="3.2" fill="#e5e5e5"/><rect x="24.5" y="101.5" width="3.2" height="3.2" fill="#e5e5e5"/><rect x="29.5" y="91.5" width="3.2" height="3.2" fill="#e5e5e5"/><rect x="29.5" y="96.5" width="3.2" height="3.2" fill="#e5e5e5"/><rect x="29.5" y="101.5" width="3.2" height="3.2" fill="#e5e5e5"/><path d="M30 102h9l-4.5 5z" fill="#000"/><path d="M13 119.5H51M13 123.5H51" stroke="#9a9a9a" stroke-width="1"/><path d="M5 183.5H59" stroke="#9a9a9a" stroke-width="1"/><path d="M5 517.5H59" stroke="#9a9a9a" stroke-width="1"/><path d="M5 676.5H59" stroke="#9a9a9a" stroke-width="1"/><path d="M62.5 113V999" stroke="#bdbdbd" stroke-width="1"/><circle cx="16" cy="141" r="8" fill="#3a3a3a"/><rect x="14.8" y="139" width="2.6" height="6.5" fill="#fff"/><circle cx="16" cy="136.5" r="1.4" fill="#fff"/><path d="M39 141q8-8 16 0q-8 8-16 0z" fill="#3a3a3a"/><circle cx="47" cy="141" r="2.5" fill="#e5e5e5"/><rect x="8" y="158" width="9" height="9" fill="#2f6fc0"/><path d="M15 168h6v-6" stroke="#d02050" stroke-width="2.5" fill="none"/><rect x="18" y="168" width="7" height="5" fill="#22a050"/><path d="M17 170h10l-5.0 5z" fill="#000"/><path d="M43 159V173H55" stroke="#9a9a9a" stroke-width="1.5" fill="none"/><path d="M47 164h6M50 161v6" stroke="#777" stroke-width="1.4"/><rect x="3.5" y="188.5" width="26" height="23" fill="#c3dbf1" stroke="#93bfe8" stroke-width="1"/><rect x="9.5" y="193.5" width="9" height="8" fill="none" stroke="#3a3a3a" stroke-width="1.2" stroke-dasharray="2 1.3"/><path d="M17 199l7 7-3 0 1.5 3-1.5 .8-1.5-3-2.5 2z" fill="#222"/><path d="M47 192l3 3h-6zM47 208l3-3h-6zM39 200l3-3v6zM55 200l-3-3v6z" fill="#3a3a3a"/><path d="M47 196v2M47 202v2M43 200h2M49 200h2" stroke="#3a3a3a" stroke-width="1.2"/><path d="M8 232l7-11v11zM24 232l-7-11v11z" fill="#3a3a3a"/><path d="M16 219v15" stroke="#aaa"/><path d="M41 223a7 7 0 1 1 0 6" fill="none" stroke="#3a3a3a" stroke-width="1.8"/><path d="M38 221l5 0-2 5z" fill="#3a3a3a"/><path d="M9.5 242V257" stroke="#999" stroke-width="1.4"/><rect x="12" y="246" width="11" height="3" fill="#3a3a3a"/><rect x="12" y="251" width="8" height="3" fill="#3a3a3a"/><rect x="9" y="269" width="10" height="13" rx="1.5" fill="#e5e5e5" stroke="#3a3a3a" stroke-width="1.3"/><rect x="12" y="271" width="10" height="12" rx="1.5" fill="#e5e5e5" stroke="#3a3a3a" stroke-width="1.3"/><rect x="40" y="267" width="11" height="12" fill="#3a3a3a"/><rect x="45" y="273" width="9" height="10" rx="1" fill="#e5e5e5" stroke="#3a3a3a" stroke-width="1.3"/><rect x="9" y="294" width="14" height="2.5" fill="#3a3a3a"/><path d="M10.5 297h11l-1 11h-9z" fill="#3a3a3a"/><path d="M14 299v7M18 299v7" stroke="#e5e5e5" stroke-width="1"/><path d="M40 307l9-9" stroke="#3a3a3a" stroke-width="3" stroke-linecap="round"/><circle cx="51" cy="296" r="4" fill="#3a3a3a"/><circle cx="53" cy="294" r="1.6" fill="#e5e5e5"/><rect x="7" y="317" width="11" height="11" fill="#c8202c"/><rect x="13" y="321" width="11" height="12" fill="#3a3a3a"/><rect x="13" y="329" width="11" height="4" fill="#2a8a3a"/><path d="M15 324.5h7M18.5 321.5v6" stroke="#fff" stroke-width="1.5"/><path d="M40 322h6M40 328h6" stroke="#aaa"/><path d="M44 317a8 8 0 0 1 0 16" fill="none" stroke="#aaa"/><rect x="44" y="320" width="9" height="9" fill="#3a3a3a"/><path d="M46 324.5h5M48.5 322v5" stroke="#fff" stroke-width="1.3"/><path d="M49 328h9l-4.5 5z" fill="#000"/><path d="M13 344a6 6 0 0 0 0 12" fill="none" stroke="#3a3a3a" stroke-width="1.8"/><path d="M12 341l3 3-3 3zM14 353l-3 3 3 3z" fill="#3a3a3a"/><path d="M18 345h4M18 350h4M18 355h4M23 342v16" stroke="#aaa" stroke-width="1.5"/><rect x="40" y="349" width="7" height="7" fill="#3a3a3a"/><path d="M41 348a6 6 0 0 1 11 -1" fill="none" stroke="#3a3a3a" stroke-width="1.8"/><path d="M49 353h9l-4.5 5z" fill="#000"/><path d="M12 375v-3a4 4 0 0 1 8 0v3" fill="none" stroke="#3a3a3a" stroke-width="2"/><rect x="10" y="374" width="12" height="9" rx="1.5" fill="#3a3a3a"/><circle cx="16" cy="378" r="1.5" fill="#e5e5e5"/><text x="10" y="397" font-family="Liberation Sans" font-size="7" fill="#3a3a3a">R2</text><path d="M10 399.5h11" stroke="#3a3a3a"/><text x="10" y="407" font-family="Liberation Sans" font-size="7" fill="#999">10k</text><text x="41" y="397" font-family="Liberation Sans" font-size="7" fill="#999">R2</text><path d="M41 399.5h11" stroke="#3a3a3a"/><text x="41" y="407" font-family="Liberation Sans" font-size="7" fill="#222">10k</text><path d="M49 403h9l-4.5 5z" fill="#000"/><path d="M9 419h4M11 417v4M9 429h4M11 427v4" stroke="#333" stroke-width="1.4"/><rect x="14" y="419" width="10" height="10" fill="#aaa"/><path d="M39 432V418h15v5h-6a6 6 0 0 0-5 6v3z" fill="#999"/><path d="M43 432v-3a6 6 0 0 1 6-6h5" fill="none" stroke="#333" stroke-width="1.4"/><path d="M9 458l3-12 12-2v14z" fill="#999"/><path d="M9 458l3-12 12-2" fill="none" stroke="#333" stroke-width="1.6"/><path d="M39 446h15" stroke="#aaa" stroke-dasharray="4 2"/><path d="M44 452h6M47 449v6" stroke="#333" stroke-width="1.5"/><path d="M9 482c0-12 4-12 4 0s4 12 4 0v-6c0-8 5-8 5 0" fill="none" stroke="#333" stroke-width="1.6"/><path d="M39 469h5M39 474h5M39 479h5M50 469h5M50 474h5M50 479h5M44 482l5-16" stroke="#444" stroke-width="1.4"/><path d="M10 494l5 1 4 8 5 3" fill="none" stroke="#2f6fc0" stroke-width="1.6"/><circle cx="10" cy="494" r="2.5" fill="#3aa64a"/><circle cx="22" cy="506" r="2.5" fill="#3aa64a"/><path d="M41 494l5 1 4 8 5 3" fill="none" stroke="#2f6fc0" stroke-width="1.6"/><circle cx="41" cy="494" r="2.5" fill="#3aa64a"/><circle cx="53" cy="506" r="2.5" fill="#3aa64a"/><path d="M47 498l4 4M51 498l-4 4" stroke="#e0203a" stroke-width="1.6"/><path d="M8 541.5h10" stroke="#222" stroke-width="2"/><path d="M19 538l4-10" stroke="#999" stroke-width="2.5"/><text x="40" y="542" font-family="Liberation Serif" font-size="17" fill="#222">T</text><circle cx="16" cy="559" r="6.5" fill="none" stroke="#333" stroke-width="1.8"/><path d="M40 562a9 7 0 0 1 14 0" fill="none" stroke="#333" stroke-width="1.8"/><rect x="10" y="576" width="12" height="15" fill="#333"/><path d="M41 591v-9l6-6h7v15z" fill="none" stroke="#333" stroke-width="1.3"/><ellipse cx="16" cy="604" rx="8" ry="3" fill="#2aa040"/><ellipse cx="16" cy="609" rx="8" ry="3" fill="#555"/><ellipse cx="16" cy="613" rx="8" ry="3" fill="#2aa040"/><path d="M41 609h12" stroke="#f0c020" stroke-width="2"/><circle cx="41" cy="609" r="2.5" fill="#3aa64a"/><circle cx="53" cy="609" r="2.5" fill="#3aa64a"/><ellipse cx="16" cy="630" rx="8" ry="3" fill="#777"/><ellipse cx="16" cy="635" rx="8" ry="3.5" fill="#666"/><ellipse cx="16" cy="634" rx="3" ry="1" fill="#ddd"/><path d="M40 628h5M40 638h5" stroke="#aaa"/><path d="M44 626a7 7 0 0 1 0 14" fill="none" stroke="#aaa"/><rect x="46" y="629" width="9" height="8" fill="#333"/><text x="46.5" y="636" font-family="Liberation Sans" font-weight="bold" font-size="6.5" fill="#fff">AT</text><path d="M9 653v11M23 653v11" stroke="#999" stroke-width="1.2"/><path d="M11 658.5h10" stroke="#333" stroke-width="1.8"/><path d="M10 658.5l4-3v6zM22 658.5l-4-3v6z" fill="#333"/><path d="M10 687l6 6 6-6M10 699l6-6 6 6" stroke="#333" stroke-width="1"/><circle cx="10" cy="687" r="2" fill="#333"/><circle cx="22" cy="687" r="2" fill="#333"/><circle cx="16" cy="693" r="2" fill="#333"/><circle cx="10" cy="699" r="2" fill="#333"/><circle cx="22" cy="699" r="2" fill="#333"/><circle cx="8" cy="693" r="2" fill="#333"/><path d="M43 686h5l4 8 4 4" fill="none" stroke="#2f6fc0" stroke-width="1.6"/><circle cx="43" cy="686" r="2.4" fill="#3aa64a"/><circle cx="55" cy="698" r="2.4" fill="#3aa64a"/><text x="40" y="701" font-family="Liberation Sans" font-size="8" fill="#333">A</text><rect x="8" y="710" width="16" height="16" fill="#2a9040"/><rect x="10.5" y="712.5" width="11" height="11" fill="none" stroke="#cfe" stroke-dasharray="1 1"/><rect x="13" y="715" width="6" height="6" fill="#9d9"/><text x="8" y="742" font-family="Liberation Sans" font-size="7" fill="#333" textLength="13" lengthAdjust="spacingAndGlyphs">ERC</text><path d="M13 746l3 3 6-6" fill="none" stroke="#2aa040" stroke-width="2.5"/><text x="39" y="742" font-family="Liberation Sans" font-size="7" fill="#333" textLength="13" lengthAdjust="spacingAndGlyphs">DRC</text><path d="M44 746l3 3 6-6" fill="none" stroke="#2aa040" stroke-width="2.5"/><path d="M16 759l9 17H7z" fill="#f5c400"/><path d="M16 764v6" stroke="#222" stroke-width="2"/><circle cx="16" cy="773" r="1.1" fill="#222"/><rect x="1900" y="135" width="19" height="845" fill="#f0f0f0"/><rect x="1900" y="156" width="19" height="779" fill="#cdcdcd"/><path d="M1905 149l5-5 5 5" fill="none" stroke="#555" stroke-width="1.6"/><path d="M1905 966l5 5 5-5" fill="none" stroke="#555" stroke-width="1.6"/><path d="M1899.5 135V980" stroke="#fff" stroke-width="1"/><rect x="64" y="981" width="1836" height="18" fill="#f0f0f0"/><rect x="87" y="981" width="1771" height="18" fill="#cdcdcd"/><path d="M78 985l-5 5 5 5" fill="none" stroke="#555" stroke-width="1.6"/><path d="M1886 985l5 5-5 5" fill="none" stroke="#555" stroke-width="1.6"/><path d="M64 980.5H1900" stroke="#fff" stroke-width="1"/><rect x="1900" y="981" width="19" height="18" fill="#e6e6e6"/><path d="M1905 122l5 4 5-4" fill="none" stroke="#666" stroke-width="1"/><rect x="1870" y="152" width="26" height="132" fill="#2d2d2d"/><rect x="1875.5" y="158" width="14.5" height="15" rx="1.5" fill="#22a040"/><rect x="1879" y="162" width="7" height="7" fill="none" stroke="#f0e040" stroke-width="1.5"/><text x="0" y="0" transform="translate(1878,179.5) rotate(90)" font-family="Liberation Sans" font-weight="bold" font-size="11.5" fill="#e8e8e8" textLength="95" lengthAdjust="spacingAndGlyphs">MANUFACTURING</text><rect x="1870" y="314" width="26" height="135" fill="#2d2d2d"/><rect x="1875.5" y="332" width="14.5" height="15" rx="1.5" fill="#f0a020"/><text x="1878" y="344.5" font-family="Liberation Sans" font-weight="bold" font-size="12" fill="#555">F</text><text x="0" y="0" transform="translate(1878,355) rotate(90)" font-family="Liberation Sans" font-weight="bold" font-size="11.5" fill="#e8e8e8" textLength="72" lengthAdjust="spacingAndGlyphs">FUSION SYNC</text></svg>
</body></html>
